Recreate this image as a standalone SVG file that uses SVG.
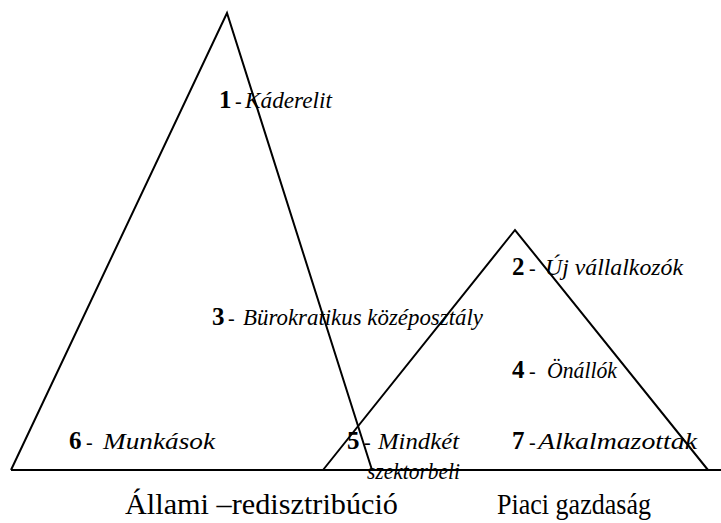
<svg xmlns="http://www.w3.org/2000/svg" width="721" height="523" viewBox="0 0 721 523">
<style>
.ln{fill:none;stroke:#000;stroke-width:2}
.t{font-family:"Liberation Serif",serif;fill:#000}
.n{font-weight:bold;font-size:25px}
.d{font-size:20px}
.i{font-style:italic;font-size:23px}
.c{font-size:29px}
</style>
<rect width="721" height="523" fill="#fff"/>
<g id="connectors">
<line class="ln" x1="11" y1="470" x2="721" y2="470"/>
</g>
<g id="state-triangle"><polyline class="ln" points="11,470 227,13 372,470"/></g>
<g id="market-triangle"><polyline class="ln" points="323,470 515,230 708,470"/></g>
<g id="n1"><text class="t n" x="219" y="108">1</text><text class="t d" x="235" y="108">-</text><text class="t i" x="245" y="108" textLength="87" lengthAdjust="spacingAndGlyphs">Káderelit</text></g>
<g id="n2"><text class="t n" x="512" y="275">2</text><text class="t d" x="529" y="275">-</text><text class="t i" x="545" y="275" textLength="138" lengthAdjust="spacingAndGlyphs">Új vállalkozók</text></g>
<g id="n3"><text class="t n" x="212" y="325">3</text><text class="t d" x="228" y="325">-</text><text class="t i" x="243" y="325" textLength="240" lengthAdjust="spacingAndGlyphs">Bürokratikus középosztály</text></g>
<g id="n4"><text class="t n" x="512" y="378">4</text><text class="t d" x="529" y="378">-</text><text class="t i" x="547" y="378" textLength="70" lengthAdjust="spacingAndGlyphs">Önállók</text></g>
<g id="n5"><text class="t n" x="347" y="449">5</text><text class="t d" x="364" y="449">-</text><text class="t i" x="378" y="449" textLength="81" lengthAdjust="spacingAndGlyphs">Mindkét</text><text class="t i" x="367" y="479" textLength="93" lengthAdjust="spacingAndGlyphs">szektorbeli</text></g>
<g id="n6"><text class="t n" x="69" y="449">6</text><text class="t d" x="86" y="449">-</text><text class="t i" x="103" y="449" textLength="112" lengthAdjust="spacingAndGlyphs">Munkások</text></g>
<g id="n7"><text class="t n" x="512" y="449">7</text><text class="t d" x="529" y="449">-</text><text class="t i" x="538" y="449" textLength="159" lengthAdjust="spacingAndGlyphs">Alkalmazottak</text></g>
<g id="cap1"><text class="t c" x="125" y="514" textLength="273" lengthAdjust="spacingAndGlyphs">Állami –redisztribúció</text></g>
<g id="cap2"><text class="t c" x="497" y="514" textLength="154" lengthAdjust="spacingAndGlyphs">Piaci gazdaság</text></g>
</svg>
